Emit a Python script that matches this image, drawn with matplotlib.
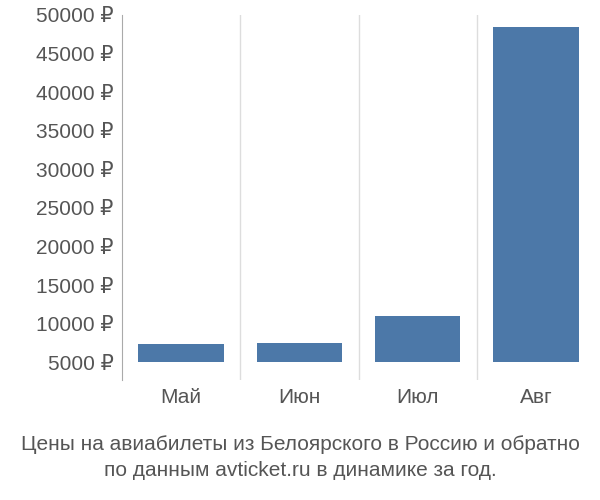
import matplotlib.pyplot as plt
import numpy as np

plt.rcParams['font.family'] = ['Liberation Sans', 'DejaVu Sans']

months = ["Май", "Июн", "Июл", "Авг"]
prices = [7400, 7500, 11000, 48400]
yticks = [5000, 10000, 15000, 20000, 25000, 30000, 35000, 40000, 45000, 50000]
base = 5000

fig = plt.figure(figsize=(6, 5), dpi=100)
ax = fig.add_axes([0.203, 0.24, 0.789, 0.73])
x = np.arange(len(months))
heights = [p - base for p in prices]
ax.bar(x, heights, bottom=base, width=0.72, color="#4c78a8", zorder=3)

ax.set_xlim(-0.5, len(months) - 0.5)
ax.set_ylim(2700, 50000)
ax.set_yticks(yticks)
ax.set_yticklabels([f"{v} ₽" for v in yticks], fontsize=15, color="#555555")
ax.set_xticks(x)
ax.set_xticklabels(months, fontsize=15, color="#555555")
ax.tick_params(axis="both", length=0, pad=6)
for b in np.arange(0.5, len(months) - 0.5):
    ax.axvline(b, color="#dddddd", lw=1, zorder=1)
for s in ["top", "right", "bottom"]:
    ax.spines[s].set_visible(False)
ax.spines["left"].set_color("#aaaaaa")

fig.text(0.5, 0.085, "Цены на авиабилеты из Белоярского в Россию и обратно\nпо данным avticket.ru в динамике за год.",
         ha="center", va="center", fontsize=15, color="#555555", linespacing=1.4)
fig.savefig("out.png")
